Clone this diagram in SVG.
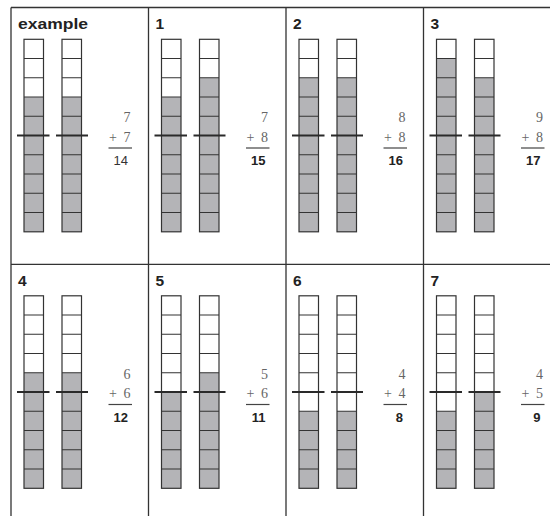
<svg xmlns="http://www.w3.org/2000/svg" xmlns:xlink="http://www.w3.org/1999/xlink" width="550" height="516" viewBox="0 0 550 516">
<style>
.frame{stroke:#333;stroke-width:1.3;fill:none}
.title{font-family:"Liberation Sans",Arial,sans-serif;font-weight:bold;font-size:15.5px;fill:#222}
.sh{fill:#b4b4b7}
.ten{stroke:#2a2a2a;stroke-width:2;fill:none}
.num{font-family:"Liberation Serif","Times New Roman",serif;font-size:14px;fill:#666}
.rule{stroke:#444;stroke-width:1.2}
.ans{font-family:"Liberation Sans",Arial,sans-serif;font-weight:bold;font-size:13px;fill:#222;text-anchor:end}
.hand{font-family:"Liberation Sans",Arial,sans-serif;font-size:13px;fill:#333;text-anchor:end}
.end{text-anchor:end}
</style>
<defs>
<g id="grid">
<rect x="0" y="0" width="19.5" height="192.5" fill="none" stroke="#333" stroke-width="1.2"/>
<path d="M0 19.25H19.5M0 38.5H19.5M0 57.75H19.5M0 77H19.5M0 96.25H19.5M0 115.5H19.5M0 134.75H19.5M0 154H19.5M0 173.25H19.5" stroke="#333" stroke-width="1.1" fill="none"/>
</g>
<path id="tens" d="M6 135.5H38.5M45 135.5H77"/>
</defs>
<rect width="550" height="516" fill="#fff"/>
<g id="connectors" class="frame">
<path d="M11 7.5H550M11 264.3H550M11 7.5V516M148.5 7.5V516M286 7.5V516M423.5 7.5V516"/>
</g>
<g id="example" transform="translate(11,0)">
<text class="title" x="7" y="28.5" textLength="70" lengthAdjust="spacingAndGlyphs">example</text>
<rect class="sh" x="13" y="97.05" width="19.5" height="134.75"/>
<rect class="sh" x="51" y="97.05" width="19.5" height="134.75"/>
<use xlink:href="#grid" x="13" y="39.3"/><use xlink:href="#grid" x="51" y="39.3"/>
<use xlink:href="#tens" class="ten"/>
<text class="num end" x="119.5" y="122">7</text>
<text class="num" x="98" y="141.7">+</text><text class="num end" x="119.5" y="141.7">7</text>
<line class="rule" x1="97.5" y1="148" x2="121" y2="148"/>
<text class="hand" x="117" y="165">14</text>
</g>
<g id="panel1" transform="translate(148.5,0)">
<text class="title" x="7" y="29">1</text>
<rect class="sh" x="13" y="97.05" width="19.5" height="134.75"/>
<rect class="sh" x="51" y="77.8" width="19.5" height="154"/>
<use xlink:href="#grid" x="13" y="39.3"/><use xlink:href="#grid" x="51" y="39.3"/>
<use xlink:href="#tens" class="ten"/>
<text class="num end" x="119.5" y="122">7</text>
<text class="num" x="98" y="141.7">+</text><text class="num end" x="119.5" y="141.7">8</text>
<line class="rule" x1="97.5" y1="148" x2="121" y2="148"/>
<text class="ans" x="117" y="165">15</text>
</g>
<g id="panel2" transform="translate(286,0)">
<text class="title" x="7" y="29">2</text>
<rect class="sh" x="13" y="77.8" width="19.5" height="154"/>
<rect class="sh" x="51" y="77.8" width="19.5" height="154"/>
<use xlink:href="#grid" x="13" y="39.3"/><use xlink:href="#grid" x="51" y="39.3"/>
<use xlink:href="#tens" class="ten"/>
<text class="num end" x="119.5" y="122">8</text>
<text class="num" x="98" y="141.7">+</text><text class="num end" x="119.5" y="141.7">8</text>
<line class="rule" x1="97.5" y1="148" x2="121" y2="148"/>
<text class="ans" x="117" y="165">16</text>
</g>
<g id="panel3" transform="translate(423.5,0)">
<text class="title" x="7" y="29">3</text>
<rect class="sh" x="13" y="58.55" width="19.5" height="173.25"/>
<rect class="sh" x="51" y="77.8" width="19.5" height="154"/>
<use xlink:href="#grid" x="13" y="39.3"/><use xlink:href="#grid" x="51" y="39.3"/>
<use xlink:href="#tens" class="ten"/>
<text class="num end" x="119.5" y="122">9</text>
<text class="num" x="98" y="141.7">+</text><text class="num end" x="119.5" y="141.7">8</text>
<line class="rule" x1="97.5" y1="148" x2="121" y2="148"/>
<text class="ans" x="117" y="165">17</text>
</g>
<g id="panel4" transform="translate(11,256.5)">
<text class="title" x="7" y="29">4</text>
<rect class="sh" x="13" y="116.3" width="19.5" height="115.5"/>
<rect class="sh" x="51" y="116.3" width="19.5" height="115.5"/>
<use xlink:href="#grid" x="13" y="39.3"/><use xlink:href="#grid" x="51" y="39.3"/>
<use xlink:href="#tens" class="ten"/>
<text class="num end" x="119.5" y="122">6</text>
<text class="num" x="98" y="141.7">+</text><text class="num end" x="119.5" y="141.7">6</text>
<line class="rule" x1="97.5" y1="148" x2="121" y2="148"/>
<text class="ans" x="117" y="165">12</text>
</g>
<g id="panel5" transform="translate(148.5,256.5)">
<text class="title" x="7" y="29">5</text>
<rect class="sh" x="13" y="135.55" width="19.5" height="96.25"/>
<rect class="sh" x="51" y="116.3" width="19.5" height="115.5"/>
<use xlink:href="#grid" x="13" y="39.3"/><use xlink:href="#grid" x="51" y="39.3"/>
<use xlink:href="#tens" class="ten"/>
<text class="num end" x="119.5" y="122">5</text>
<text class="num" x="98" y="141.7">+</text><text class="num end" x="119.5" y="141.7">6</text>
<line class="rule" x1="97.5" y1="148" x2="121" y2="148"/>
<text class="ans" x="117" y="165">11</text>
</g>
<g id="panel6" transform="translate(286,256.5)">
<text class="title" x="7" y="29">6</text>
<rect class="sh" x="13" y="154.8" width="19.5" height="77"/>
<rect class="sh" x="51" y="154.8" width="19.5" height="77"/>
<use xlink:href="#grid" x="13" y="39.3"/><use xlink:href="#grid" x="51" y="39.3"/>
<use xlink:href="#tens" class="ten"/>
<text class="num end" x="119.5" y="122">4</text>
<text class="num" x="98" y="141.7">+</text><text class="num end" x="119.5" y="141.7">4</text>
<line class="rule" x1="97.5" y1="148" x2="121" y2="148"/>
<text class="ans" x="117" y="165">8</text>
</g>
<g id="panel7" transform="translate(423.5,256.5)">
<text class="title" x="7" y="29">7</text>
<rect class="sh" x="13" y="154.8" width="19.5" height="77"/>
<rect class="sh" x="51" y="135.55" width="19.5" height="96.25"/>
<use xlink:href="#grid" x="13" y="39.3"/><use xlink:href="#grid" x="51" y="39.3"/>
<use xlink:href="#tens" class="ten"/>
<text class="num end" x="119.5" y="122">4</text>
<text class="num" x="98" y="141.7">+</text><text class="num end" x="119.5" y="141.7">5</text>
<line class="rule" x1="97.5" y1="148" x2="121" y2="148"/>
<text class="ans" x="117" y="165">9</text>
</g>
</svg>
